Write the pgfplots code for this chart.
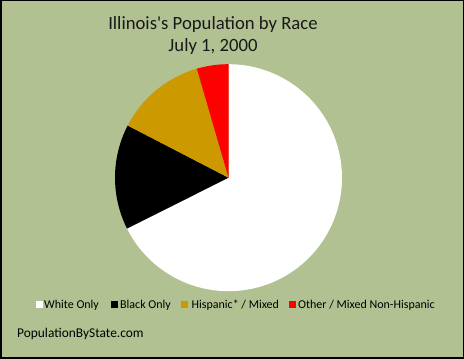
\documentclass[border=0pt]{standalone}
\usepackage{pgfplots}
\pgfplotsset{compat=1.18}
\usepackage{fontspec}
\setmainfont{Carlito}
\definecolor{bg}{RGB}{177,193,146}
\definecolor{hisp}{RGB}{204,153,0}
\definecolor{oth}{RGB}{255,0,0}
% shares (percent), clockwise from 12 o'clock
\def\pW{67.6}\def\pB{15.0}\def\pH{12.9}\def\pO{4.5}
\begin{document}
\begin{tikzpicture}[x=1pt,y=1pt]
\useasboundingbox (0,0) rectangle (464,359);
\fill[bg] (0,0) rectangle (464,359);
\begin{axis}[
  at={(228.5pt,181.3pt)}, anchor=origin,
  x=113.5pt, y=113.5pt,
  xmin=-1.02, xmax=1.02, ymin=-1.02, ymax=1.02,
  hide axis, clip=false,
]
\addplot[fill=white, draw=none, domain={90-3.6*\pW}:90, samples=120, variable=\t]
  ({cos(\t)},{sin(\t)}) -- (axis cs:0,0) -- cycle;
\addplot[fill=black, draw=none, domain={90-3.6*(\pW+\pB)}:{90-3.6*\pW}, samples=40, variable=\t]
  ({cos(\t)},{sin(\t)}) -- (axis cs:0,0) -- cycle;
\addplot[fill=hisp, draw=none, domain={90-3.6*(\pW+\pB+\pH)}:{90-3.6*(\pW+\pB)}, samples=40, variable=\t]
  ({cos(\t)},{sin(\t)}) -- (axis cs:0,0) -- cycle;
\addplot[fill=oth, draw=none, domain={90-3.6*(\pW+\pB+\pH+\pO)}:{90-3.6*(\pW+\pB+\pH)}, samples=20, variable=\t]
  ({cos(\t)},{sin(\t)}) -- (axis cs:0,0) -- cycle;
\end{axis}
% title
\node[anchor=base, font=\fontsize{18.7}{22}\selectfont, text=black!90] at (213,329.5) {Illinois\textquotesingle s Population by Race};
\node[anchor=base, font=\fontsize{18.7}{22}\selectfont, text=black!90] at (213,307) {July 1, 2000};
% legend
\begin{scope}[font=\fontsize{12}{14}\selectfont]
\fill[white] (36,51) rectangle (42.5,57.5);
\node[anchor=base west, inner sep=0] at (44,50) {White Only};
\fill[black] (111,51) rectangle (117.5,57.5);
\node[anchor=base west, inner sep=0] at (120,50) {Black Only};
\fill[hisp] (181,51) rectangle (187.5,57.5);
\node[anchor=base west, inner sep=0] at (191.5,50) {Hispanic* / Mixed};
\fill[oth] (289,51) rectangle (295.5,57.5);
\node[anchor=base west, inner sep=0] at (298,50) {Other / Mixed Non-Hispanic};
\end{scope}
\node[anchor=base west, inner sep=0, font=\fontsize{13.4}{15}\selectfont] at (17,21) {PopulationByState.com};
\draw[line width=1.5pt] (0.75,0.75) rectangle (463.25,358.25);
\end{tikzpicture}
\end{document}
